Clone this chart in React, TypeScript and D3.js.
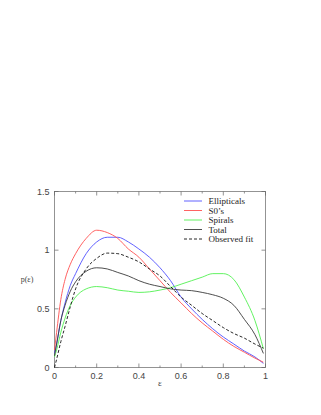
import React from 'react';
import * as d3 from 'd3';

// ellipticity grid and p(e) curves
const eps = [0, 0.01, 0.03, 0.05, 0.075, 0.1, 0.15, 0.2, 0.25, 0.3, 0.35, 0.4, 0.45, 0.5, 0.55, 0.6, 0.65, 0.7, 0.75, 0.8, 0.85, 0.9, 0.95, 0.99];
const ellipticals = [0.12, 0.2, 0.4, 0.55, 0.7, 0.8, 0.97, 1.07, 1.11, 1.11, 1.07, 1.01, 0.94, 0.85, 0.74, 0.6, 0.5, 0.41, 0.33, 0.26, 0.2, 0.14, 0.09, 0.035];
const s0s = [0.15, 0.3, 0.58, 0.75, 0.88, 0.97, 1.1, 1.17, 1.15, 1.1, 1.01, 0.94, 0.84, 0.74, 0.64, 0.55, 0.46, 0.38, 0.31, 0.24, 0.18, 0.13, 0.08, 0.045];
const spirals = [0.09, 0.15, 0.3, 0.42, 0.53, 0.6, 0.67, 0.69, 0.68, 0.66, 0.65, 0.64, 0.645, 0.66, 0.68, 0.71, 0.74, 0.77, 0.8, 0.8, 0.75, 0.6, 0.4, 0.16];
const total = [0.1, 0.2, 0.4, 0.53, 0.65, 0.73, 0.82, 0.85, 0.84, 0.81, 0.78, 0.74, 0.71, 0.69, 0.67, 0.66, 0.655, 0.64, 0.62, 0.59, 0.53, 0.41, 0.28, 0.12];
const observedFit = [0, 0.07, 0.22, 0.35, 0.52, 0.67, 0.84, 0.93, 0.975, 0.97, 0.94, 0.9, 0.84, 0.78, 0.69, 0.6, 0.53, 0.46, 0.4, 0.34, 0.29, 0.25, 0.2, 0.165];

const xTicks = [0, 0.2, 0.4, 0.6, 0.8, 1];
const xMinor = [0.1, 0.3, 0.5, 0.7, 0.9];
const yTicks = [0, 0.5, 1, 1.5];

const series = [
  { name: 'Ellipticals', values: ellipticals, color: '#5050ff', dash: '' },
  { name: 'S0’s', values: s0s, color: '#ff5050', dash: '' },
  { name: 'Spirals', values: spirals, color: '#50f050', dash: '' },
  { name: 'Total', values: total, color: '#3a3a3a', dash: '' },
  { name: 'Observed fit', values: observedFit, color: '#111111', dash: '3,2' },
];

const App = () => {
  const left = 54.5, right = 265.5, top = 191.5, bottom = 367.5;
  const x = d3.scaleLinear().domain([0, 1]).range([left, right]);
  const y = d3.scaleLinear().domain([0, 1.5]).range([bottom, top]);
  const line = d3.line<number>()
    .x((_, i) => x(eps[i]))
    .y(d => y(d))
    .curve(d3.curveMonotoneX);

  const axisColor = '#666';
  const tickFont = { fontFamily: 'Liberation Sans, Arial, sans-serif', fontSize: 9, fill: '#444' };

  return (
    <svg width={321} height={415} style={{ position: 'absolute', left: 0, top: 0, background: '#fff' }}>
      {/* frame */}
      <rect x={left} y={top} width={right - left} height={bottom - top} fill="none" stroke={axisColor} strokeWidth={0.7} />
      {xTicks.map(t => (
        <g key={'x' + t}>
          <line x1={x(t)} x2={x(t)} y1={bottom} y2={bottom - 4} stroke={axisColor} strokeWidth={0.7} />
          <line x1={x(t)} x2={x(t)} y1={top} y2={top + 4} stroke={axisColor} strokeWidth={0.7} />
          <text x={x(t)} y={bottom + 11} textAnchor="middle" {...tickFont}>{d3.format('~g')(t)}</text>
        </g>
      ))}
      {xMinor.map(t => (
        <g key={'xm' + t}>
          <line x1={x(t)} x2={x(t)} y1={bottom} y2={bottom - 2} stroke={axisColor} strokeWidth={0.7} />
          <line x1={x(t)} x2={x(t)} y1={top} y2={top + 2} stroke={axisColor} strokeWidth={0.7} />
        </g>
      ))}
      {yTicks.map(t => (
        <g key={'y' + t}>
          <line x1={left} x2={left + 4} y1={y(t)} y2={y(t)} stroke={axisColor} strokeWidth={0.7} />
          <line x1={right} x2={right - 4} y1={y(t)} y2={y(t)} stroke={axisColor} strokeWidth={0.7} />
          <text x={left - 5} y={y(t) + 3} textAnchor="end" {...tickFont}>{d3.format('~g')(t)}</text>
        </g>
      ))}
      <text x={27} y={282} textAnchor="middle" fontFamily="Liberation Serif, serif" fontSize={8} fill="#444">p(ε)</text>
      <text x={160} y={386} textAnchor="middle" fontFamily="Liberation Serif, serif" fontSize={9} fill="#444">ε</text>

      {series.map(s => (
        <path key={s.name} d={line(s.values) || ''} fill="none" stroke={s.color} strokeWidth={0.9} strokeDasharray={s.dash || undefined} />
      ))}

      {/* legend */}
      {series.map((s, i) => {
        const ly = 201 + i * 9.5;
        return (
          <g key={'lg' + s.name}>
            <line x1={184} x2={202} y1={ly} y2={ly} stroke={s.color} strokeWidth={0.9} strokeDasharray={s.dash || undefined} />
            <text x={208.5} y={ly + 3} fontFamily="Liberation Serif, serif" fontSize={9} fill="#222">{s.name}</text>
          </g>
        );
      })}
    </svg>
  );
};

export default App;
